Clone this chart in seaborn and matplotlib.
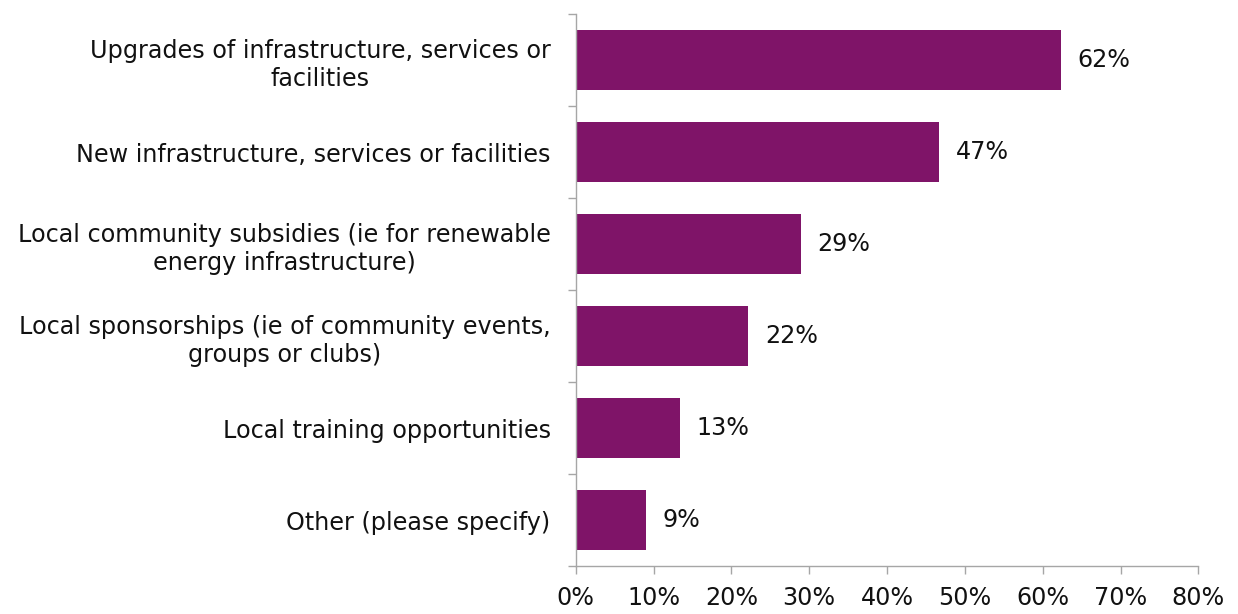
import numpy as np
import pandas as pd
import matplotlib.pyplot as plt
import seaborn as sns

# Datos
categorias = [
    "Upgrades of infrastructure, services or\nfacilities",
    "New infrastructure, services or facilities",
    "Local community subsidies (ie for renewable\nenergy infrastructure)",
    "Local sponsorships (ie of community events,\ngroups or clubs)",
    "Local training opportunities",
    "Other (please specify)",
]
porcentajes = [62.3, 46.7, 28.9, 22.2, 13.4, 9.0]
ticks_x = [0, 10, 20, 30, 40, 50, 60, 70, 80]

df = pd.DataFrame({"Categoria": categorias, "Porcentaje": porcentajes})

sns.set_style("white")
plt.rcParams['font.family'] = ['DejaVu Sans']
tam = 17.2

fig = plt.figure(figsize=(12.38, 6.14), dpi=100)
ax = fig.add_axes([0.465, 0.078, 0.503, 0.899])

sns.barplot(data=df, x="Porcentaje", y="Categoria", orient="h",
            color="#7F1468", saturation=1, width=0.66, linewidth=0, ax=ax)

# Etiquetas de valor junto a cada barra
for i, v in enumerate(porcentajes):
    ax.text(v + 2.1, i, f"{v:.0f}%", va="center", ha="left", fontsize=tam, color="#111111")

ax.set_xlim(0, 80)
ax.set_ylim(len(categorias) - 0.5, -0.5)
ax.set_xticks(ticks_x)
ax.set_xticklabels([f"{t}%" for t in ticks_x], fontsize=tam, color="#111111")
ax.set_xlabel("")
ax.set_ylabel("")

# Marcas del eje Y en los límites entre categorías (estilo Excel)
ax.set_yticks(range(len(categorias)))
ax.set_yticklabels(categorias, fontsize=tam, color="#111111",
                   multialignment="center", linespacing=1.25)
ax.set_yticks(np.arange(-0.5, len(categorias)), minor=True)
ax.tick_params(axis="y", which="major", left=True, length=0, pad=18)
ax.tick_params(axis="y", which="minor", left=True, length=5.5, width=1, color="#A6A6A6", direction="out")
ax.tick_params(axis="x", which="major", bottom=True, length=6, width=1, color="#A6A6A6", direction="out", pad=8)

for lado in ["top", "right"]:
    ax.spines[lado].set_visible(False)
for lado in ["left", "bottom"]:
    ax.spines[lado].set_color("#A6A6A6")
    ax.spines[lado].set_linewidth(1)

plt.savefig("out.png", dpi=100)
